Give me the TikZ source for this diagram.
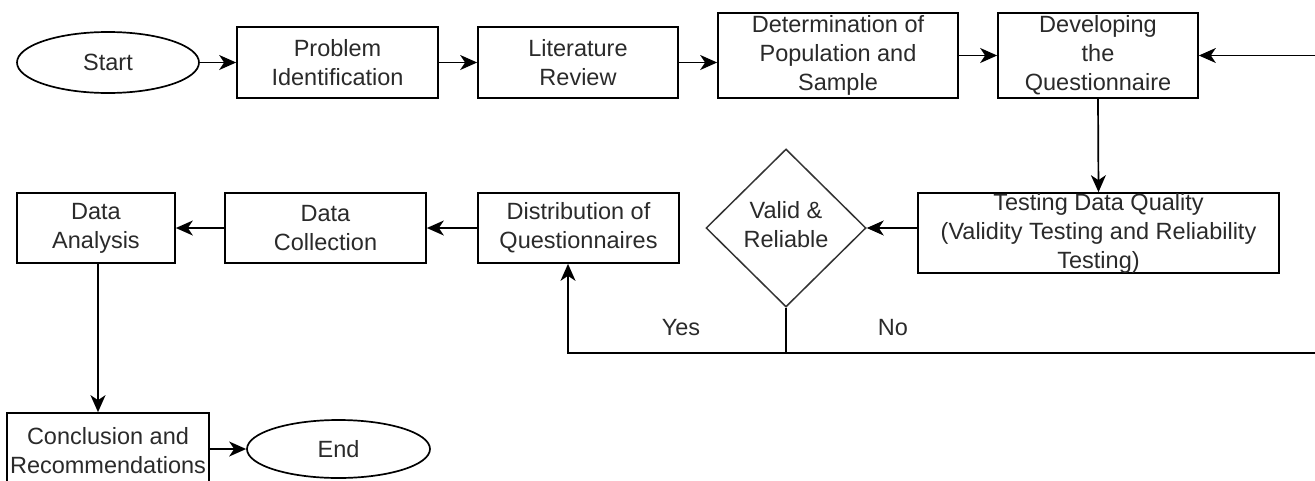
\documentclass[tikz,border=0pt]{standalone}
\usepackage{fontspec}
\setmainfont{Liberation Sans}
\usetikzlibrary{shapes.geometric,arrows.meta}
\definecolor{txt}{HTML}{2A2A2A}
\begin{document}
\begin{tikzpicture}[x=1pt,y=-1pt,
  lbl/.style={text=txt, align=center, font=\fontsize{23.5}{29}\selectfont, inner sep=0pt},
  box/.style={lbl, draw=black, line width=1.7pt, rectangle},
  oval/.style={lbl, draw=black, line width=1.7pt, ellipse},
  conn/.style={line width=1.7pt, draw=black},
  arr/.style={conn, -{Stealth[length=17pt,width=15pt,inset=5pt]}}
]
\useasboundingbox (0,0) rectangle (1315,480);
\clip (0,0) rectangle (1315,480);
\fill[white] (0,0) rectangle (1315,480);

% top row
\node[oval, minimum width=182pt, minimum height=61pt] (start) at (108,62.5) {Start};
\node[box, minimum width=201pt, minimum height=71pt] (pi) at (337.5,62.5) {Problem\\Identification};
\node[box, minimum width=200pt, minimum height=71pt] (lr) at (578,62.5) {Literature\\Review};
\node[box, minimum width=240pt, minimum height=85pt] (det) at (838,55.5) {Determination of\\Population and\\Sample};
\node[box, minimum width=200pt, minimum height=85pt] (dev) at (1098,55.5) {Developing\\the\\Questionnaire};

% middle row
\node[box, minimum width=361pt, minimum height=80pt] (test) at (1098.5,233) {Testing Data Quality\\(Validity Testing and Reliability\\Testing)};
\node[diamond, draw=black!80, line width=1.5pt, minimum width=160pt, minimum height=158pt, inner sep=0pt] (dia) at (786,228) {};
\node[lbl] (dial) at (786,225) {Valid \&\\Reliable};
\node[box, minimum width=201pt, minimum height=70pt] (dist) at (578.5,228) {Distribution of\\Questionnaires};
\node[box, minimum width=201pt, minimum height=70pt] (coll) at (325.5,228) {Data\\Collection};
\node[box, minimum width=158pt, minimum height=70pt] (ana) at (96,228) {Data\\Analysis};

% bottom row
\node[box, minimum width=202pt, minimum height=76pt] (conc) at (108,451) {Conclusion and\\Recommendations};
\node[oval, minimum width=183pt, minimum height=58pt] (end) at (338.5,449) {End};

% labels
\node[lbl] (yes) at (681,328) {Yes};
\node[lbl] (no) at (893,328) {No};

% connectors
\draw[arr] (start) -- (pi);
\draw[arr] (pi) -- (lr);
\draw[arr] (lr.east) -- (lr.east -| det.west);
\draw[arr] (det) -- (dev);
\draw[arr] (dev.south) -- (test.north);
\draw[arr] (test.west |- dia) -- (dia.east);
\draw[arr] (dist) -- (coll);
\draw[arr] (coll) -- (ana);
\draw[arr] (ana.south -| 98,0) -- (98,0 |- conc.north);
\draw[arr] (conc.east |- end) -- (end.west);

% decision branches
\coordinate (j) at (786,353);
\coordinate (yb) at (568,353);
\coordinate (nr) at (1345,353);
\draw[conn] (dia.south) -- (j);
\draw[arr] (j) -- (yb) -- (yb |- dist.south);
\draw[arr] (j) -- (nr) |- (dev.east);
\end{tikzpicture}
\end{document}
